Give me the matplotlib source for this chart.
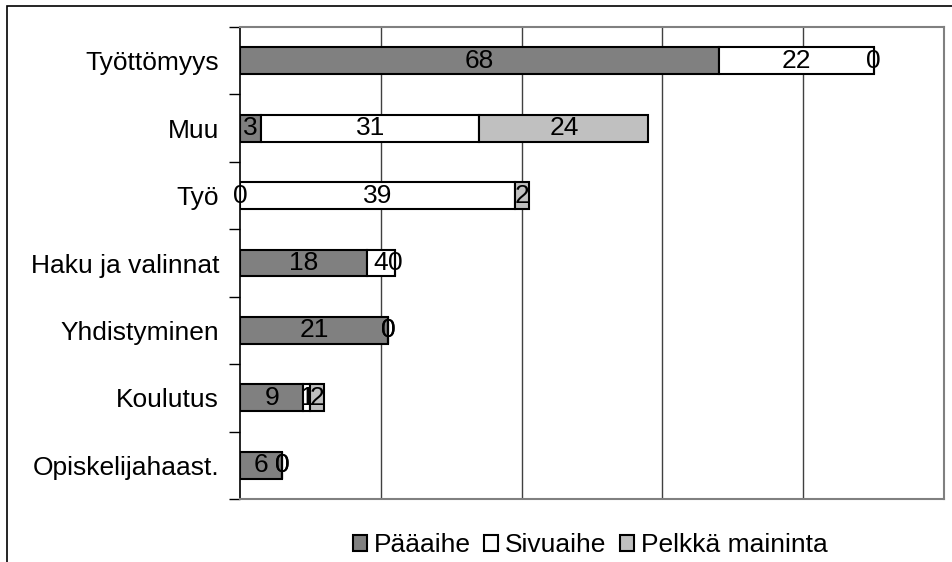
import matplotlib
matplotlib.use("Agg")
import matplotlib.pyplot as plt
from matplotlib.patches import Rectangle
import numpy as np

plt.rcParams['font.family'] = ['Liberation Sans', 'DejaVu Sans']

categories = ["Työttömyys", "Muu", "Työ", "Haku ja valinnat",
              "Yhdistyminen", "Koulutus", "Opiskelijahaast."]
series_names = ["Pääaihe", "Sivuaihe", "Pelkkä maininta"]
paaaihe = [68, 3, 0, 18, 21, 9, 6]
sivuaihe = [22, 31, 39, 4, 0, 1, 0]
pelkka_maininta = [0, 24, 2, 0, 0, 2, 0]
colors = ["#808080", "#ffffff", "#c0c0c0"]

FS = 19

fig = plt.figure(figsize=(9.52, 5.62), dpi=100)
ax = fig.add_axes([240 / 952, 1 - 499 / 562, 704 / 952, 472 / 562])

y = np.arange(len(categories))
left = np.zeros(len(categories))
for name, vals, col in zip(series_names,
                           [paaaihe, sivuaihe, pelkka_maininta], colors):
    vals = np.array(vals, dtype=float)
    bars = ax.barh(y, vals, left=left, height=0.4, color=col,
                   edgecolor="black", linewidth=1.5, label=name, zorder=3)
    for b, v in zip(bars, vals):
        cx = b.get_x() + b.get_width() / 2
        ax.text(cx, b.get_y() + b.get_height() / 2, f"{int(v)}",
                ha="center", va="center", fontsize=FS, color="black",
                zorder=4)
    left += vals

ax.set_xlim(0, 100)
ax.set_ylim(len(categories) - 0.5, -0.5)

ax.set_yticks(y)
ax.set_yticklabels(categories, fontsize=FS)
ax.tick_params(axis="y", which="major", length=0, pad=15)
ax.set_yticks(np.arange(-0.5, len(categories) + 0.5, 1), minor=True)
ax.tick_params(axis="y", which="minor", length=8, width=1, color="black",
               direction="out")
ax.set_xticks([20, 40, 60, 80])
ax.tick_params(axis="x", length=0, labelbottom=False)
ax.grid(axis="x", color="#404040", linewidth=1, zorder=0)

for s in ["top", "right", "bottom"]:
    ax.spines[s].set_color("#808080")
    ax.spines[s].set_linewidth(1.5)
ax.spines["left"].set_color("black")
ax.spines["left"].set_linewidth(1.2)

# outer chart-area border (top and left edges visible)
fig.patches.append(Rectangle((7 / 952, -0.1), 1.2, 1.1 - 6 / 562,
                             transform=fig.transFigure, fill=False,
                             edgecolor="black", linewidth=1.2))

handles, labels = ax.get_legend_handles_labels()
fig.legend(handles, labels, loc="center", bbox_to_anchor=(590 / 952, 1 - 545 / 562),
           ncol=3, frameon=False, fontsize=FS, handlelength=0.55,
           handleheight=0.55, handletextpad=0.25, columnspacing=0.5,
           borderpad=0, borderaxespad=0)

fig.savefig("out.png", dpi=100)
